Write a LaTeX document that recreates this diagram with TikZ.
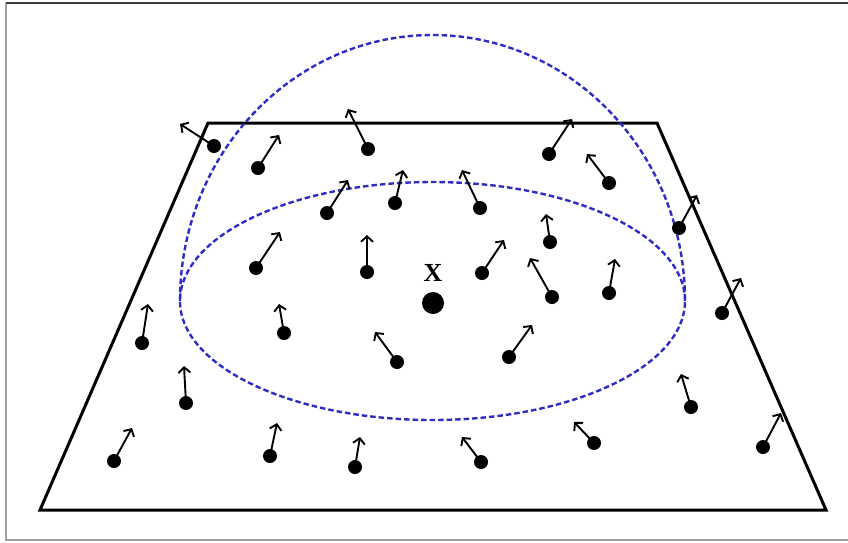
\documentclass[tikz,border=0pt]{standalone}
\usepackage{fontspec}
\setmainfont{Liberation Serif}
\usetikzlibrary{arrows.meta}
\definecolor{domeblue}{RGB}{45,45,195}
\begin{document}
\begin{tikzpicture}[x=1pt,y=-1pt,
  frameline/.style={draw={rgb,255:red,160;green,160;blue,160},line width=1.3pt},
  topline/.style={draw={rgb,255:red,60;green,60;blue,60},line width=1.3pt},
  plane/.style={draw=black,line width=3pt,line join=miter},
  domeline/.style={draw=domeblue,line width=2.4pt,dash pattern=on 5.5pt off 3pt},
  dot/.style={circle,fill=black,inner sep=0pt,minimum size=14pt},
  bigdot/.style={circle,fill=black,inner sep=0pt,minimum size=22pt},
  vec/.style={draw=black,line width=1.9pt,-{Straight Barb[length=5.5pt,width=12pt,line width=1.9pt]}}]
\useasboundingbox (0,0) rectangle (848,542);
% frame
\draw[frameline] (6,3) -- (6,540) -- (848,540);
\draw[topline] (6,3) -- (848,3);
% plane
\coordinate (p1) at (208,123);
\coordinate (p2) at (657,123);
\coordinate (p3) at (826,510);
\coordinate (p4) at (40,510);
\draw[plane] (p1) -- (p2) -- (p3) -- (p4) -- cycle;
% neighbourhood ellipse and dome
\coordinate (c) at (432.5,301);
\draw[domeline] (c) ellipse [x radius=252.5pt, y radius=119pt];
\draw[domeline] (180,301) arc [start angle=180, end angle=0, x radius=252.5pt, y radius=266pt];
% vectors
\foreach \i/\x/\y/\tx/\ty in {
  1/214/146/180/124, 2/258/168/279/135, 3/368/149/348/109, 4/327/213/348/180,
  5/395/203/403/170, 6/256/268/280/232, 7/367/272/367/235, 8/549/154/572/119,
  9/609/183/587/154, 10/480/208/462/170, 11/550/242/546/214, 12/679/228/697/195,
  13/482/273/504/240, 14/552/297/530/258, 15/609/293/615/259, 16/284/333/279/304,
  17/397/362/375/332, 18/509/357/532/325, 19/142/343/148/304, 20/186/403/184/366,
  21/114/461/132/428, 22/270/456/277/423, 23/355/467/360/437, 24/722/313/741/278,
  25/691/407/681/374, 26/594/443/574/422, 27/481/462/462/437, 28/763/447/781/413}
{
  \node[dot] (d\i) at (\x,\y) {};
  \coordinate (t\i) at (\tx,\ty);
  \draw[vec] (d\i.center) -- (t\i);
}
% query point
\node[bigdot] (x) at (433,303) {};
\node[font=\fontsize{26}{26}\selectfont\bfseries,inner sep=0pt] (xl) at (433,273) {X};
\end{tikzpicture}
\end{document}
